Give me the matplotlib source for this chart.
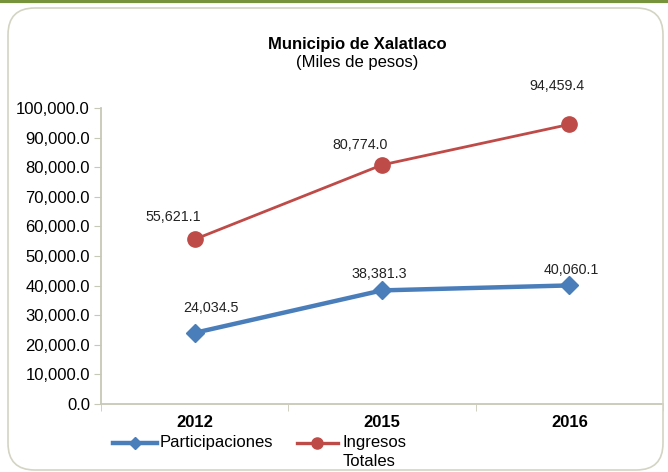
import matplotlib.pyplot as plt
from matplotlib.lines import Line2D
from matplotlib.patches import FancyBboxPatch
from matplotlib.ticker import FuncFormatter

plt.rcParams['font.family'] = ['Liberation Sans', 'DejaVu Sans']

years = ['2012', '2015', '2016']
participaciones = [24034.5, 38381.3, 40060.1]
ingresos = [55621.1, 80774.0, 94459.4]

blue = '#4a7ebb'
red = '#be4b48'

fig = plt.figure(figsize=(6.68, 4.72), dpi=100)

# green strip on top and rounded frame
fig.add_artist(Line2D([0, 1], [0.997, 0.997], color='#77933c', lw=3,
                      transform=fig.transFigure))
frame = FancyBboxPatch((8 / 668, 2 / 472), 655 / 668, 462 / 472,
                       boxstyle='round,pad=0,rounding_size=0.04',
                       transform=fig.transFigure, fc='none', ec='#d4d4c4', lw=1.2,
                       mutation_aspect=668 / 472)
fig.add_artist(frame)

ax = fig.add_axes([101 / 668, 1 - 404 / 472, 562 / 668, 296 / 472])
x = range(len(years))
ax.plot(x, participaciones, color=blue, lw=3.2, marker='D', ms=9, clip_on=False)
ax.plot(x, ingresos, color=red, lw=2.0, marker='o', ms=11, clip_on=False)

# label offsets in pixels (dx, dy)
off_p = [(16, 25), (-3, 16), (2, 15)]
off_i = [(-21, 22), (-22, 20), (-12, 38)]
for i, v in enumerate(participaciones):
    ax.annotate(f'{v:,.1f}', (i, v), xytext=off_p[i], textcoords='offset pixels',
                ha='center', va='center', fontsize=10.3, color='#222222')
for i, v in enumerate(ingresos):
    ax.annotate(f'{v:,.1f}', (i, v), xytext=off_i[i], textcoords='offset pixels',
                ha='center', va='center', fontsize=10.3, color='#222222')

ax.set_xlim(-0.5, 2.5)
ax.set_ylim(0, 100000)
ax.set_yticks(range(0, 100001, 10000))
ax.yaxis.set_major_formatter(FuncFormatter(lambda v, p: f'{v:,.1f}'))
ax.set_xticks(x)
ax.set_xticklabels(years, fontsize=12, fontweight='bold')
ax.set_xticks([-0.5, 0.5, 1.5, 2.5], minor=True)
ax.tick_params(axis='x', which='major', length=0, pad=8)
ax.tick_params(axis='x', which='minor', length=5, color='#c8c8b8')
ax.tick_params(axis='y', labelsize=12, length=5, color='#c8c8b8', pad=3)
for s in ['top', 'right']:
    ax.spines[s].set_visible(False)
for s in ['left', 'bottom']:
    ax.spines[s].set_color('#c8c8b8')
    ax.spines[s].set_linewidth(1.3)

fig.text(357 / 668, 1 - 45 / 472, 'Municipio de Xalatlaco', ha='center', va='center',
         fontsize=12, fontweight='bold')
fig.text(357 / 668, 1 - 62 / 472, '(Miles de pesos)', ha='center', va='center',
         fontsize=12)

# legend, drawn by hand to keep the two-line label aligned like the original
ly = 1 - 443 / 472
fig.add_artist(Line2D([113 / 668, 157 / 668], [ly, ly], color=blue, lw=3.2,
                      transform=fig.transFigure))
fig.add_artist(Line2D([135 / 668], [ly], color=blue, marker='D', ms=6,
                      transform=fig.transFigure))
fig.text(160 / 668, ly, 'Participaciones', ha='left', va='center', fontsize=12)
fig.add_artist(Line2D([297 / 668, 338 / 668], [ly, ly], color=red, lw=2.4,
                      transform=fig.transFigure))
fig.add_artist(Line2D([317 / 668], [ly], color=red, marker='o', ms=8,
                      transform=fig.transFigure))
fig.text(343 / 668, ly, 'Ingresos', ha='left', va='center', fontsize=12)
fig.text(343 / 668, 1 - 462 / 472, 'Totales', ha='left', va='center', fontsize=12)

fig.savefig('out.png', dpi=100)
